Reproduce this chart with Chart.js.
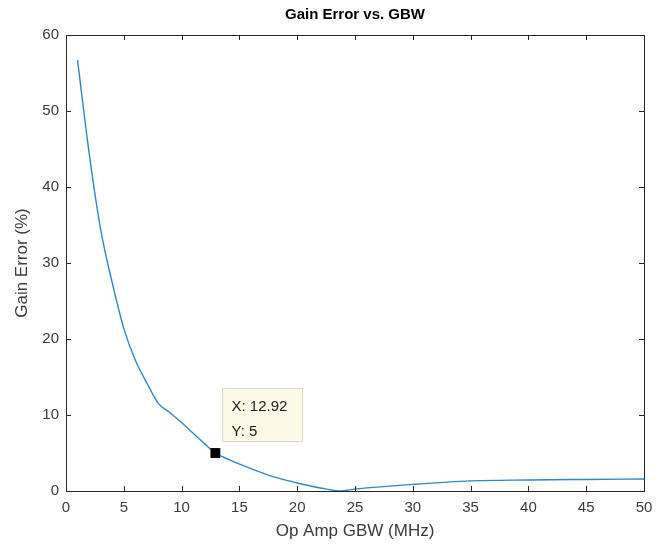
<!DOCTYPE html>
<html>
<head>
<meta charset="utf-8">
<script src="https://cdn.jsdelivr.net/npm/chart.js@4/dist/chart.umd.min.js"></script>
<style>
  html, body { margin: 0; padding: 0; background: #ffffff; }
  #wrap { width: 657px; height: 553px; }
</style>
</head>
<body>
<div id="wrap"><canvas id="c" width="657" height="553"></canvas></div>
<script>
// Gain error of the amplifier stage against op amp gain-bandwidth product
const gbwMHz = [1, 2, 3, 4, 5, 6, 7, 8, 9, 10, 11, 12, 12.92, 14, 16, 18, 20, 22, 23.7, 25, 30, 35, 40, 45, 50];
const gainErrorPct = [56.7, 44.5, 34.4, 27.4, 21.4, 17.2, 14.2, 11.5, 10.3, 9.0, 7.6, 6.2, 5.0, 4.2, 2.95, 1.85, 1.05, 0.4, 0.02, 0.25, 0.87, 1.33, 1.45, 1.52, 1.58];
const xTicks = [0, 5, 10, 15, 20, 25, 30, 35, 40, 45, 50];
const yTicks = [0, 10, 20, 30, 40, 50, 60];

// Data cursor readout
const tipX = 12.92;
const tipY = 5;

const FONT = "'Liberation Sans', Arial, Helvetica, sans-serif";
const AXIS_COLOR = '#262626';
const TEXT_COLOR = '#3a3a3a';

const points = gbwMHz.map((g, i) => ({ x: g, y: gainErrorPct[i] }));

const axesBox = {
  id: 'axesBox',
  afterDatasetsDraw(chart) {
    const { ctx, chartArea: a, scales: { x, y } } = chart;
    const len = 5;
    ctx.save();
    ctx.strokeStyle = AXIS_COLOR;
    ctx.lineWidth = 1;
    ctx.strokeRect(Math.round(a.left) + 0.5, Math.round(a.top) + 0.5,
                   Math.round(a.right - a.left), Math.round(a.bottom - a.top));
    ctx.beginPath();
    x.ticks.forEach(t => {
      const px = Math.round(x.getPixelForValue(t.value)) + 0.5;
      ctx.moveTo(px, a.bottom); ctx.lineTo(px, a.bottom - len);
      ctx.moveTo(px, a.top); ctx.lineTo(px, a.top + len);
    });
    y.ticks.forEach(t => {
      const py = Math.round(y.getPixelForValue(t.value)) + 0.5;
      ctx.moveTo(a.left, py); ctx.lineTo(a.left + len, py);
      ctx.moveTo(a.right, py); ctx.lineTo(a.right - len, py);
    });
    ctx.stroke();
    ctx.restore();
  },
  afterDraw(chart) {
    const { ctx, chartArea: a, scales: { x, y } } = chart;
    ctx.save();
    // title
    ctx.fillStyle = '#000000';
    ctx.font = 'bold 15px ' + FONT;
    ctx.textAlign = 'center';
    ctx.textBaseline = 'middle';
    ctx.fillText('Gain Error vs. GBW', (a.left + a.right) / 2, 15);

    // data tip box
    const px = x.getPixelForValue(tipX);
    const py = y.getPixelForValue(tipY);
    const bx = Math.round(px + 7) + 0.5;
    const by = Math.round(py - 65) + 0.5;
    const bw = 80, bh = 53;
    ctx.fillStyle = '#fafae6';
    ctx.strokeStyle = '#d8d8c8';
    ctx.lineWidth = 1;
    ctx.fillRect(bx, by, bw, bh);
    ctx.strokeRect(bx, by, bw, bh);
    ctx.fillStyle = '#1a1a1a';
    ctx.font = '15px ' + FONT;
    ctx.textAlign = 'left';
    ctx.textBaseline = 'middle';
    ctx.fillText('X: ' + tipX, bx + 9, by + 18);
    ctx.fillText('Y: ' + tipY, bx + 9, by + 43);
    ctx.restore();
  }
};

new Chart(document.getElementById('c'), {
  type: 'line',
  data: {
    datasets: [
      {
        label: 'Gain error',
        data: points,
        borderColor: '#3286c6',
        borderWidth: 1.4,
        pointRadius: 0,
        cubicInterpolationMode: 'monotone',
        fill: false,
        order: 2
      },
      {
        label: 'Cursor',
        data: [{ x: tipX, y: tipY }],
        showLine: false,
        pointStyle: 'rect',
        pointRadius: 7,
        backgroundColor: '#000000',
        borderColor: '#000000',
        borderWidth: 0,
        order: 1
      }
    ]
  },
  options: {
    responsive: false,
    animation: false,
    devicePixelRatio: 1,
    layout: { padding: { top: 35, right: 13, bottom: 0, left: 0 } },
    plugins: {
      legend: { display: false },
      tooltip: { enabled: false },
      title: { display: false }
    },
    scales: {
      x: {
        type: 'linear',
        min: 0,
        max: 50,
        afterBuildTicks(s) { s.ticks = xTicks.map(v => ({ value: v })); },
        afterFit(s) {
          s.height = 62;
          s.paddingLeft = 0;
          s.paddingRight = 0;
        },
        grid: { display: false, drawTicks: false },
        border: { display: false },
        ticks: {
          padding: 8,
          color: TEXT_COLOR,
          font: { family: FONT, size: 15 },
          maxRotation: 0
        },
        title: {
          display: true,
          text: 'Op Amp GBW (MHz)',
          color: TEXT_COLOR,
          font: { family: FONT, size: 17 },
          padding: { top: 0, bottom: 11 }
        }
      },
      y: {
        type: 'linear',
        min: 0,
        max: 60,
        afterBuildTicks(s) { s.ticks = yTicks.map(v => ({ value: v })); },
        afterFit(s) {
          s.width = 66;
          s.paddingTop = 0;
          s.paddingBottom = 0;
        },
        grid: { display: false, drawTicks: false },
        border: { display: false },
        ticks: {
          padding: 7,
          color: TEXT_COLOR,
          font: { family: FONT, size: 15 }
        },
        title: {
          display: true,
          text: 'Gain Error (%)',
          color: TEXT_COLOR,
          font: { family: FONT, size: 17 },
          padding: { top: 12, bottom: 0 }
        }
      }
    }
  },
  plugins: [axesBox]
});
</script>
</body>
</html>
